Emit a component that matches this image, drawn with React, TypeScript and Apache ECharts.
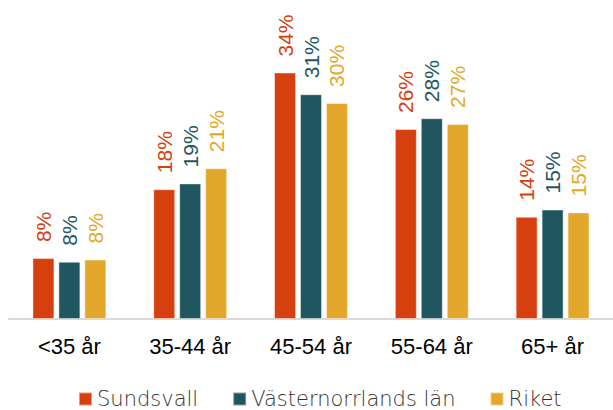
import React, { useEffect, useRef } from "react";
import * as echarts from "echarts";

const categories = ["<35 år", "35-44 år", "45-54 år", "55-64 år", "65+ år"];
const seriesNames = ["Sundsvall", "Västernorrlands län", "Riket"];
const sundsvall = [8.4, 17.9, 34.0, 26.2, 14.1];
const vasternorrland = [7.9, 18.7, 31.0, 27.7, 15.1];
const riket = [8.2, 20.8, 29.8, 26.9, 14.7];
const colors = ["#D6400F", "#1F5660", "#E3A82B"];

export default function App() {
  const ref = useRef<HTMLDivElement>(null);
  useEffect(() => {
    if (!ref.current) return;
    const chart = echarts.init(ref.current, null, { renderer: "svg" });
    const data = [sundsvall, vasternorrland, riket];
    chart.setOption({
      animation: false,
      grid: { left: 9, right: -6, top: 29, bottom: 91 },
      legend: {
        data: seriesNames,
        top: 388,
        left: 78,
        padding: 0,
        itemWidth: 13,
        itemHeight: 13,
        itemGap: 34,
        icon: "rect",
        textStyle: {
          fontSize: 21,
          lineHeight: 22,
          color: "#333333",
          fontFamily: "DejaVu Sans",
          fontWeight: 200,
        },
      },
      xAxis: {
        type: "category",
        data: categories,
        axisLine: { lineStyle: { color: "#d9d9d9", width: 2 } },
        axisTick: { show: false },
        axisLabel: { color: "#000", fontSize: 22, margin: 16, fontFamily: "Liberation Sans" },
      },
      yAxis: { type: "value", min: 0, max: 40, show: false, splitLine: { show: false } },
      series: seriesNames.map((name, i) => ({
        name,
        type: "bar",
        data: data[i],
        barWidth: 22,
        barGap: "18%",
        itemStyle: { color: colors[i], borderColor: "rgba(255,255,255,0.45)", borderWidth: 1 },
        label: {
          show: true,
          position: "top",
          rotate: 90,
          distance: 16,
          align: "left",
          verticalAlign: "middle",
          color: colors[i],
          fontSize: 21,
          fontFamily: "Liberation Sans",
          formatter: (p: any) => Math.round(p.value) + "%",
        },
      })),
    });
    return () => chart.dispose();
  }, []);
  return <div ref={ref} style={{ width: 613, height: 410, position: "absolute", left: 0, top: 0 }} />;
}
